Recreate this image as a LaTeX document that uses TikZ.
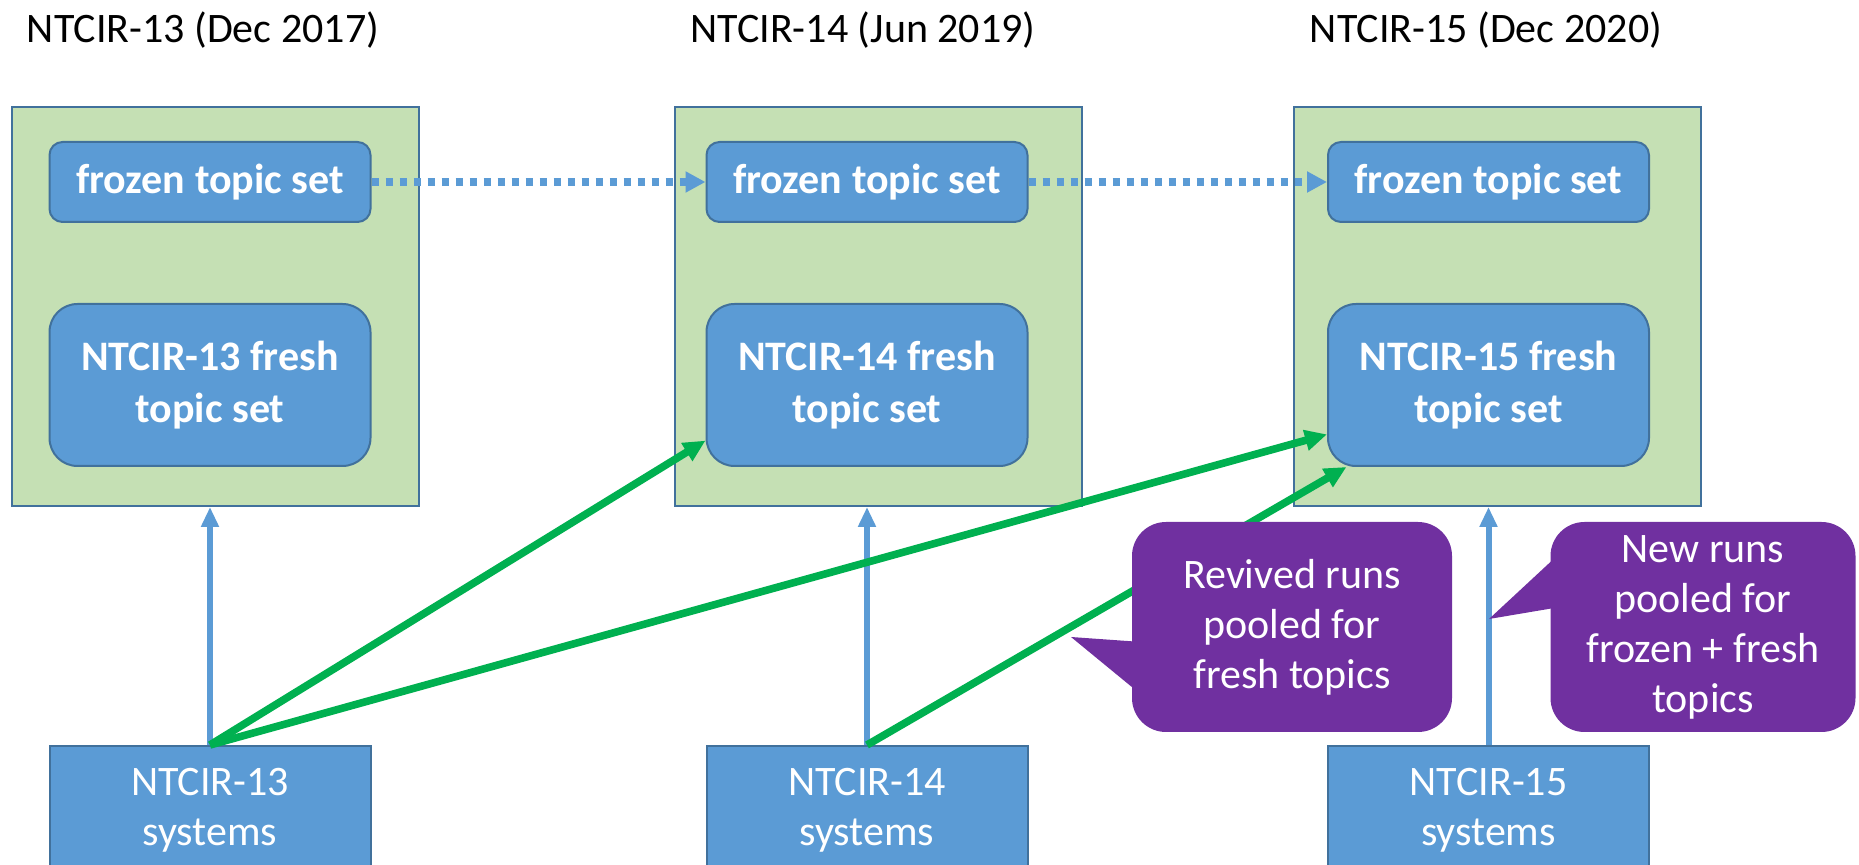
\documentclass[tikz,border=0pt]{standalone}
\usepackage{fontspec}
\setmainfont{Carlito}
\usetikzlibrary{positioning}
\usetikzlibrary{arrows.meta}

\definecolor{panelgreen}{HTML}{C5E0B4}
\definecolor{boxblue}{HTML}{5B9BD5}
\definecolor{boxline}{HTML}{41719C}
\definecolor{runsgreen}{HTML}{00B050}
\definecolor{notepurple}{HTML}{7030A0}

\begin{document}
\begin{tikzpicture}[
        x=0.5pt, y=-0.5pt,
        every node/.style={font=\fontsize{21}{25}\selectfont},
        panel/.style={draw=boxline, line width=1pt, fill=panelgreen, minimum width=203.5pt, minimum height=199.5pt},
        topic/.style={draw=boxline, line width=1pt, fill=boxblue, text=white, rounded corners=6.5pt, minimum width=160.5pt, minimum height=40pt, align=center, font=\fontsize{21}{26}\selectfont\bfseries},
        fresh/.style={topic, rounded corners=14pt, minimum height=81pt},
        systems/.style={draw=boxline, line width=1pt, fill=boxblue, text=white, minimum width=160.5pt, minimum height=64pt, align=center},
        note/.style={fill=notepurple, text=white, rounded corners=17pt, minimum height=105pt, align=center},
        feed/.style={draw=boxblue, line width=3pt, -{Triangle[length=10pt, width=8.5pt]}},
        carry/.style={draw=boxblue, line width=3.8pt, dash pattern=on 3.6pt off 3.4pt, -{Triangle[length=10pt, width=10pt]}},
        revive/.style={draw=runsgreen, line width=3.8pt, -{Triangle[length=11pt, width=10pt]}},
    ]
        \useasboundingbox (0,0) rectangle (1859,865);

        % meeting titles
        \node (t13) at (203,30) {NTCIR-13 (Dec 2017)};
        \node (t14) at (863,30) {NTCIR-14 (Jun 2019)};
        \node (t15) at (1486,30) {NTCIR-15 (Dec 2020)};

        % rounds
        \node[panel] (p13) at (215,306.5) {};
        \node[panel] (p14) at (878,306.5) {};
        \node[panel] (p15) at (1497,306.5) {};

        \node[topic] (frozen13) at (210,182) {frozen topic set};
        \node[topic] (frozen14) at (867,182) {frozen topic set};
        \node[topic] (frozen15) at (1488.5,182) {frozen topic set};

        \node[fresh] (fresh13) at (210,385) {NTCIR-13 fresh\\topic set};
        \node[fresh] (fresh14) at (867,385) {NTCIR-14 fresh\\topic set};
        \node[fresh] (fresh15) at (1488.5,385) {NTCIR-15 fresh\\topic set};

        \node[systems] (sys13) at (210,810) {NTCIR-13\\systems};
        \node[systems] (sys14) at (867,810) {NTCIR-14\\systems};
        \node[systems] (sys15) at (1488.5,810) {NTCIR-15\\systems};

        \draw[feed] (sys13.north) -- (sys13.north |- p13.south);
        \draw[feed] (sys14.north) -- (sys14.north |- p14.south);
        \draw[feed] (sys15.north) -- (sys15.north |- p15.south);

        \draw[carry] (frozen13.east) -- (frozen14.west);
        \draw[carry] (frozen14.east) -- (frozen15.west);

        \draw[revive] (sys13.north) -- (fresh14.199);
        \draw[revive] (sys13.north) -- (fresh15.197);
        \draw[revive] (sys14.north) -- (fresh15.210);

        % callouts
        \node[note, minimum width=160pt] (revived) at (1292,627) {Revived runs\\pooled for\\fresh topics};
        \node[note, minimum width=152.5pt] (newruns) at (1703,627) {New runs\\pooled for\\frozen + fresh\\topics};
        \coordinate (revivedtip) at (1071,637);
        \coordinate (newtip) at (1489,619);
        \fill[notepurple] (revivedtip) -- ([shift={(10,15)}]revived.west) -- ([shift={(10,68)}]revived.west) -- cycle;
        \fill[notepurple] (newtip) -- ([shift={(10,-74)}]newruns.west) -- ([shift={(10,-20)}]newruns.west) -- cycle;
    \end{tikzpicture}
\end{document}
